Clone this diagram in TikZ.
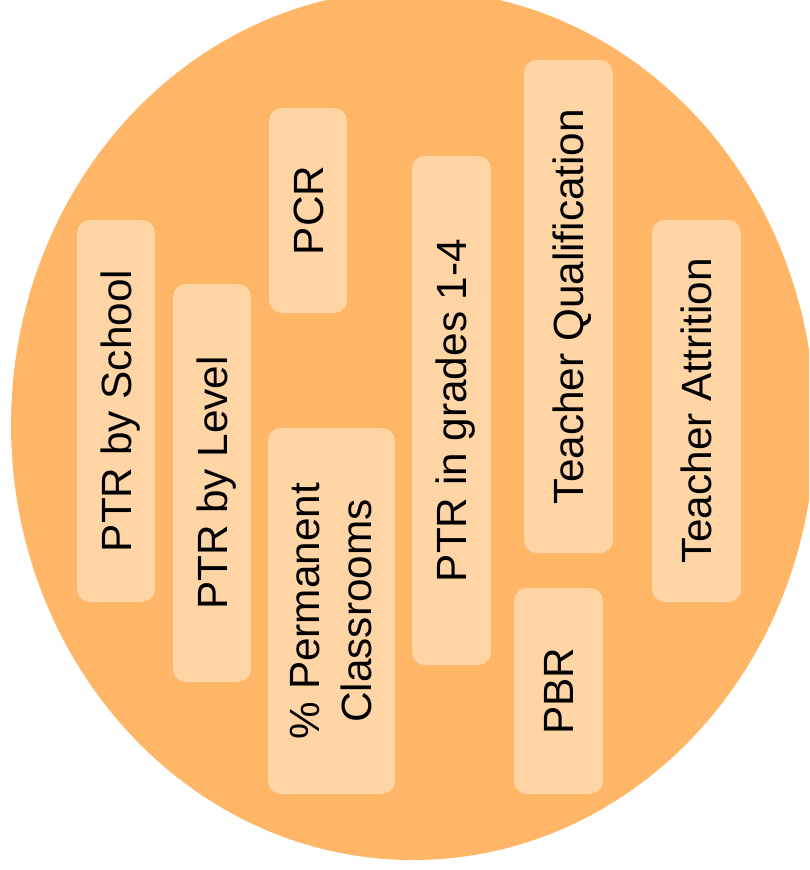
\documentclass[tikz,border=0pt]{standalone}
\usepackage{fontspec}
\setmainfont{Liberation Sans}
\definecolor{ellfill}{RGB}{255,182,102}
\definecolor{boxfill}{RGB}{255,213,166}
\tikzset{
  itembox/.style={fill=boxfill, draw=none, rounded corners=13pt, rotate=90,
    inner sep=0pt, align=center, text=black,
    font=\fontsize{42.3}{52}\selectfont},
  oneline/.style={text height=30.3pt, text depth=0pt}
}
\begin{document}
\begin{tikzpicture}[x=1pt,y=-1pt]
\useasboundingbox (0,0) rectangle (809,870);
\clip (0,0) rectangle (809,870);
\fill[ellfill] (413,425) ellipse [x radius=402pt, y radius=435pt];
\node[itembox, oneline, minimum width=382pt, minimum height=78pt] (school) at (116,411) {PTR by School};
\node[itembox, oneline, minimum width=398pt, minimum height=78pt] (level) at (212,483) {PTR by Level};
\node[itembox, oneline, minimum width=205pt, minimum height=78pt] (pcr) at (308,210.5) {PCR};
\node[itembox, minimum width=366pt, minimum height=127pt] (perm) at (331.5,611) {\% Permanent\\Classrooms};
\node[itembox, oneline, minimum width=509pt, minimum height=79pt] (grades) at (451.5,410.5) {PTR in grades 1-4};
\node[itembox, oneline, minimum width=493pt, minimum height=89pt] (qual) at (568.5,306.5) {Teacher Qualification};
\node[itembox, oneline, minimum width=206pt, minimum height=89pt] (pbr) at (558.5,691) {PBR};
\node[itembox, oneline, minimum width=382pt, minimum height=89pt] (attr) at (696.5,411) {Teacher Attrition};
\end{tikzpicture}
\end{document}
